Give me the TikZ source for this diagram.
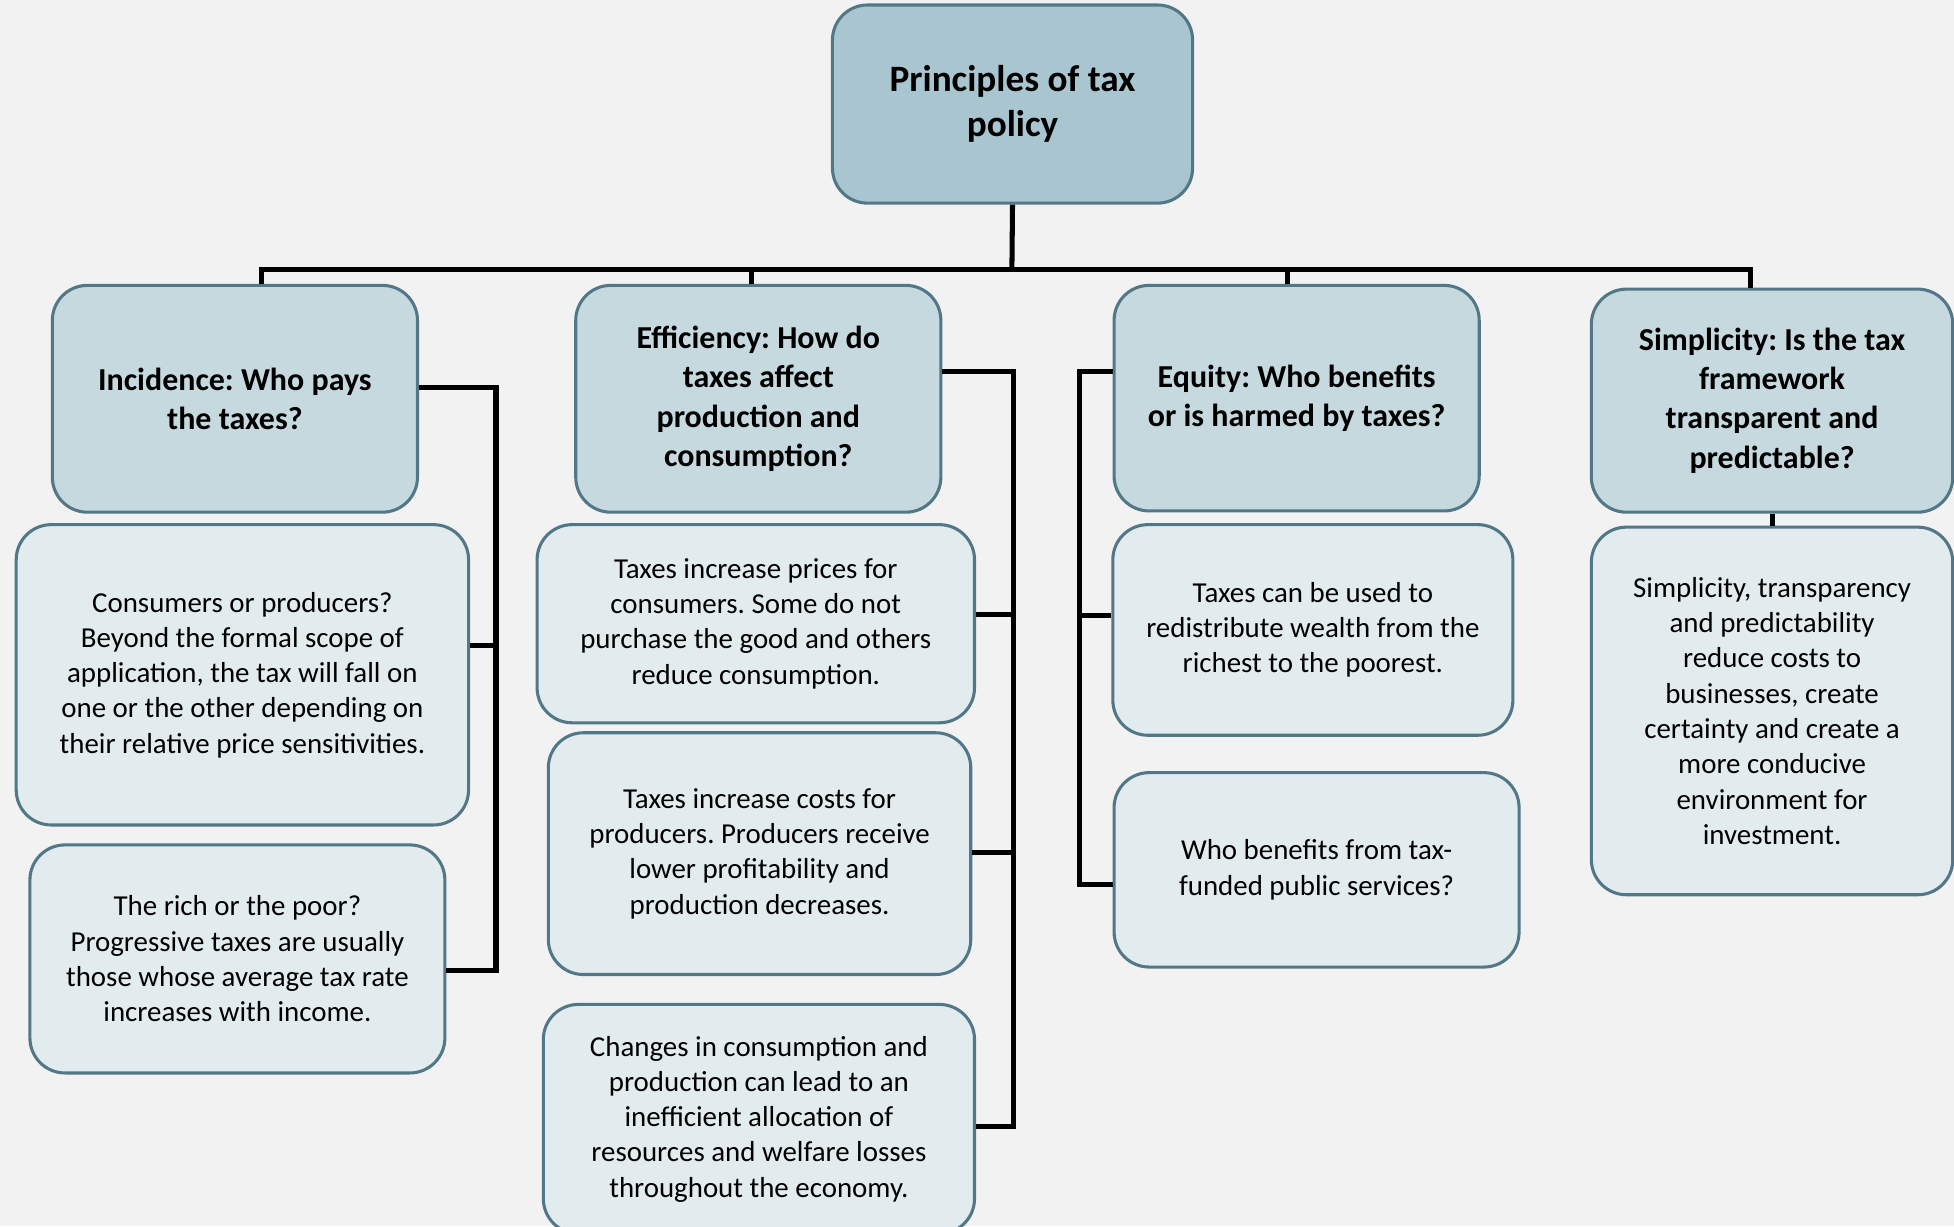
\documentclass[tikz,border=0pt]{standalone}
\usepackage{fontspec}
\setmainfont{Carlito}
\frenchspacing
\usetikzlibrary{positioning,calc}

\definecolor{bggray}{RGB}{242,242,242}
\definecolor{rootfill}{RGB}{168,197,208}
\definecolor{headfill}{RGB}{198,217,223}
\definecolor{notefill}{RGB}{226,235,238}
\definecolor{boxline}{RGB}{82,120,136}

\tikzset{
  box/.style={draw=boxline, line width=1.4pt, rounded corners=16pt, align=center, inner sep=0pt},
  wh/.style 2 args={minimum width=#1*0.2mm, minimum height=#2*0.2mm},
  rootbox/.style={box, fill=rootfill, font=\fontsize{17}{20.4}\selectfont\bfseries},
  headbox/.style={box, fill=headfill, font=\fontsize{14.6}{17.9}\selectfont\bfseries},
  notebox/.style={box, fill=notefill, font=\fontsize{13.2}{16.1}\selectfont},
  link/.style={line width=2.3pt, black, line join=miter},
}

\begin{document}
\begin{tikzpicture}[x=0.2mm,y=-0.2mm]
    \fill[bggray] (0,0) rectangle (1568,984);
    \useasboundingbox (0,0) rectangle (1568,984);

    % top
    \node[rootbox, wh={289}{159}] (root) at (812.5,83.5) {Principles of tax\\policy};

    % the four principles
    \node[headbox, wh={293}{182}] (inc) at (188.5,320) {Incidence: Who pays\\the taxes?};
    \node[headbox, wh={293}{182}] (eff) at (608.5,320) {Efficiency: How do\\taxes affect\\production and\\consumption?};
    \node[headbox, wh={293}{181}] (equ) at (1040.5,319.5) {Equity: Who benefits\\or is harmed by taxes?};
    \node[headbox, wh={290}{179}] (sim) at (1422,321.5) {Simplicity: Is the tax\\framework\\transparent and\\predictable?};

    % notes
    \node[notebox, wh={363}{241}] (inc1) at (194.5,541.5) {Consumers or producers?\\Beyond the formal scope of\\application, the tax will fall on\\one or the other depending on\\their relative price sensitivities.};
    \node[notebox, wh={333}{183}] (inc2) at (190.5,769.5) {The rich or the poor?\\Progressive taxes are usually\\those whose average tax rate\\increases with income.};
    \node[notebox, wh={351}{159}] (eff1) at (606.5,500.5) {Taxes increase prices for\\consumers. Some do not\\purchase the good and others\\reduce consumption.};
    \node[notebox, wh={339}{194}] (eff2) at (609.5,685) {Taxes increase costs for\\producers. Producers receive\\lower profitability and\\production decreases.};
    \node[notebox, wh={346}{184}] (eff3) at (609,898) {Changes in consumption and\\production can lead to an\\inefficient allocation of\\resources and welfare losses\\throughout the economy.};
    \node[notebox, wh={321}{169}] (equ1) at (1053.5,505.5) {Taxes can be used to\\redistribute wealth from the\\richest to the poorest.};
    \node[notebox, wh={325}{156}] (equ2) at (1056.5,698) {Who benefits from tax-\\funded public services?};
    \node[notebox, wh={290}{295}] (sim1) at (1422,570.5) {Simplicity, transparency\\and predictability\\reduce costs to\\businesses, create\\certainty and create a\\more conducive\\environment for\\investment.};

    % bus under the root
    \coordinate (bus) at (812,216);
    \coordinate (busL) at (210,216);
    \coordinate (busR) at (1405,216);
    \coordinate (dropE) at (603,216);
    \coordinate (dropQ) at (1033,216);
    \draw[link] (root.south) -- (bus);
    \draw[link] (busL |- inc.north) -- (busL) -- (busR) -- (busR |- sim.north);
    \draw[link] (dropE) -- (dropE |- eff.north);
    \draw[link] (dropQ) -- (dropQ |- equ.north);

    % incidence
    \coordinate (incT) at (398,311);
    \coordinate (incM) at (398,518);
    \coordinate (incB) at (398,779);
    \draw[link] (inc.east |- incT) -- (incT) -- (incB) -- (inc2.east |- incB);
    \draw[link] (incM) -- (inc1.east |- incM);

    % efficiency
    \coordinate (effT) at (813,298);
    \coordinate (effM1) at (813,493);
    \coordinate (effM2) at (813,684);
    \coordinate (effB) at (813,904);
    \draw[link] (eff.east |- effT) -- (effT) -- (effB) -- (eff3.east |- effB);
    \draw[link] (effM1) -- (eff1.east |- effM1);
    \draw[link] (effM2) -- (eff2.east |- effM2);

    % equity
    \coordinate (equT) at (866,298);
    \coordinate (equM) at (866,494);
    \coordinate (equB) at (866,710);
    \draw[link] (equ.west |- equT) -- (equT) -- (equB) -- (equ2.west |- equB);
    \draw[link] (equM) -- (equ1.west |- equM);

    % simplicity
    \draw[link] (sim.south) -- (sim1.north);
\end{tikzpicture}
\end{document}
